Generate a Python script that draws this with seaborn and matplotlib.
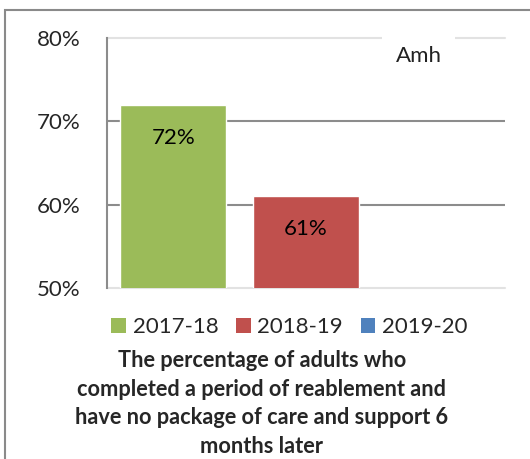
import numpy as np
import pandas as pd
import seaborn as sns
import matplotlib.pyplot as plt
from matplotlib.patches import Patch, Rectangle

# data
years = ['2017-18', '2018-19', '2019-20']
values = [72, 61, np.nan]
colors = ['#9bbb59', '#c0504d', '#4f81bd']
yticks = [50, 60, 70, 80]
title = ('The percentage of adults who\ncompleted a period of reablement and\n'
         'have no package of care and support 6\nmonths later')
note = 'Amh'

sns.set_style('white')
plt.rcParams['font.family'] = ['Lato', 'DejaVu Sans']

fig = plt.figure(figsize=(5.3, 4.59), dpi=100)
ax = fig.add_axes([0.202, 0.3725, 0.751, 0.5445])

df = pd.DataFrame({'year': years, 'value': values})
sns.barplot(data=df, x='year', y='value', hue='year', order=years, hue_order=years,
            palette=colors, legend=False, width=0.8, saturation=1, ax=ax)

for cont in ax.containers:
    labels = ['' if np.isnan(b.get_height()) else '{:.0f}%'.format(b.get_height()) for b in cont]
    ax.bar_label(cont, labels=labels, padding=-31, fontsize=16, color='black')

ax.set_ylim(50, 80)
ax.set_xlim(-0.5, 2.5)
ax.set_yticks(yticks)
ax.set_yticklabels(['{}%'.format(t) for t in yticks], fontsize=16)
ax.set_xticks([])
ax.set_xlabel('')
ax.set_ylabel('')
ax.tick_params(axis='y', length=0, pad=19)

for t in [60, 70]:
    ax.axhline(t, color='#8c8c8c', lw=1.5, zorder=0)
for t in [50, 80]:
    ax.axhline(t, color='#e2e2e2', lw=1.5, zorder=0, clip_on=False)

for s in ['top', 'right', 'bottom']:
    ax.spines[s].set_visible(False)
ax.spines['left'].set_color('#8c8c8c')
ax.spines['left'].set_linewidth(1.5)

ax.text(0.783, 0.93, note, transform=ax.transAxes, ha='center', va='center', fontsize=16,
        color='#222222', bbox=dict(facecolor='white', edgecolor='none', pad=10), zorder=5)

handles = [Patch(facecolor=c, edgecolor='none') for c in colors]
fig.legend(handles, years, loc='center', bbox_to_anchor=(0.546, 0.2876), ncol=3, frameon=False,
           fontsize=16, handlelength=0.65, handleheight=0.65, handletextpad=0.3, columnspacing=0.8)

fig.text(0.494, 0.121, title, ha='center', va='center', fontsize=15.7, fontweight='bold',
         linespacing=1.46)

fig.patches.append(Rectangle((5 / 530, -0.1), 1.2, 1.1 - 10 / 459, transform=fig.transFigure,
                             fill=False, edgecolor='#8a8a8a', lw=1.5))

fig.savefig('out.png', dpi=100)
